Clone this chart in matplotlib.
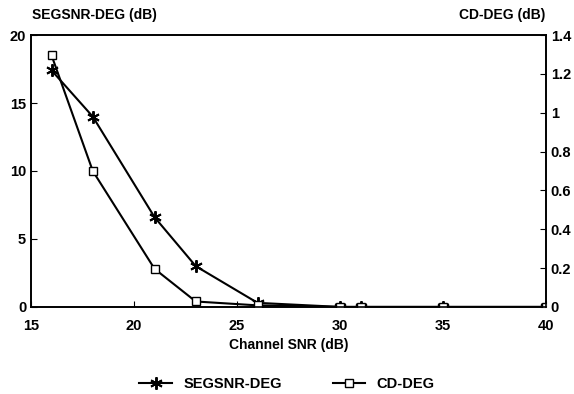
import matplotlib.pyplot as plt

# Значення
channel_snr = [16, 18, 21, 23, 26, 30, 31, 35, 40]
segsnr_deg = [17.4, 14.0, 6.6, 3.0, 0.3, 0.0, 0.0, 0.0, 0.0]
cd_deg = [1.295, 0.70, 0.196, 0.028, 0.008, 0.0, 0.0, 0.0, 0.0]

x_ticks = [15, 20, 25, 30, 35, 40]
left_ticks = [0, 5, 10, 15, 20]
right_ticks = [0, 0.2, 0.4, 0.6, 0.8, 1, 1.2, 1.4]
right_labels = ["0", "0.2", "0.4", "0.6", "0.8", "1", "1.2", "1.4"]

plt.rcParams["font.family"] = ["Liberation Sans", "DejaVu Sans"]
plt.rcParams["font.weight"] = "bold"

fig = plt.figure(figsize=(5.74, 3.94), dpi=100)
ax = fig.add_axes([0.054, 0.221, 0.897, 0.690])
ax2 = ax.twinx()

l1, = ax.plot(channel_snr, segsnr_deg, color="black", lw=1.5, marker=(6, 2, 0),
              ms=9, mew=1.4, label="SEGSNR-DEG")
l2, = ax2.plot(channel_snr, cd_deg, color="black", lw=1.5, marker="s",
               ms=6, mfc="white", mew=1.0, label="CD-DEG")

ax.set_xlim(15, 40)
ax.set_ylim(0, 20)
ax2.set_ylim(0, 1.4)
ax.set_xticks(x_ticks)
ax.set_yticks(left_ticks)
ax2.set_yticks(right_ticks)
ax2.set_yticklabels(right_labels)

ax.tick_params(direction="in", labelsize=10.5, length=4)
ax.tick_params(axis="x", pad=9)
ax2.tick_params(direction="in", labelsize=10.5, length=4)
for a in (ax, ax2):
    for s in a.spines.values():
        s.set_linewidth(1.2)

ax.set_xlabel("Channel SNR (dB)", fontsize=10, fontweight="bold", labelpad=3)
fig.text(0.056, 0.945, "SEGSNR-DEG (dB)", fontsize=10, fontweight="bold",
         ha="left", va="bottom")
fig.text(0.951, 0.945, "CD-DEG (dB)", fontsize=10, fontweight="bold",
         ha="right", va="bottom")

fig.legend(handles=[l1, l2], loc="center", bbox_to_anchor=(0.5, 0.025),
           ncol=2, frameon=False, fontsize=10.5, columnspacing=3.5,
           handlelength=2.2)

fig.savefig("out.png", dpi=100)
